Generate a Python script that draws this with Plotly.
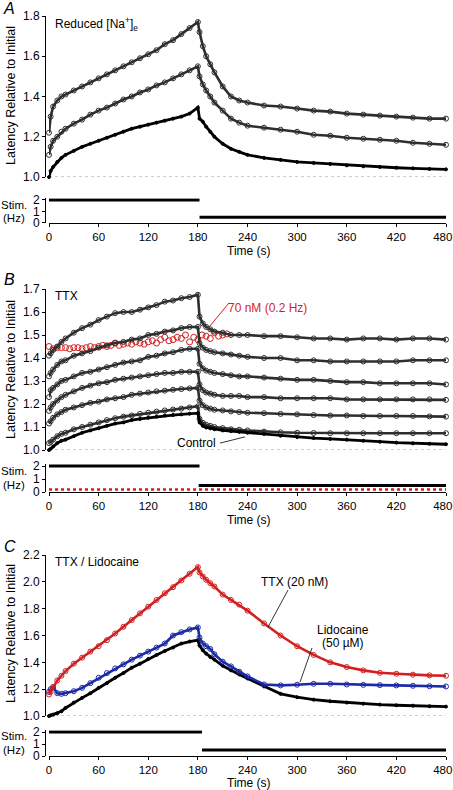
import plotly.graph_objects as go

# ---------------- data ----------------
T_PRE = [0, 2, 5, 10, 15, 20, 30, 40, 50, 60, 70, 80, 90, 100, 110, 120, 130, 140, 150, 160, 170, 180]
T_POST = [182, 186, 190, 195, 200, 210, 220, 230, 240, 260, 280, 300, 320, 340, 360, 380, 400, 420, 440, 460, 480]
TIME = T_PRE + T_POST

# Panel A: reduced [Na+]e
A_95 = [1.22, 1.30, 1.35, 1.38, 1.40, 1.41, 1.43, 1.45, 1.47, 1.49, 1.51, 1.53, 1.55, 1.57, 1.59, 1.61, 1.63, 1.66, 1.68, 1.71, 1.74, 1.77,
        1.72, 1.65, 1.60, 1.56, 1.52, 1.45, 1.40, 1.38, 1.37, 1.355, 1.35, 1.34, 1.33, 1.325, 1.315, 1.31, 1.305, 1.30, 1.295, 1.29, 1.29]
A_125 = [1.11, 1.15, 1.18, 1.20, 1.225, 1.24, 1.265, 1.285, 1.31, 1.33, 1.345, 1.365, 1.385, 1.40, 1.42, 1.435, 1.455, 1.47, 1.49, 1.51, 1.53, 1.55,
         1.50, 1.46, 1.43, 1.40, 1.37, 1.33, 1.29, 1.27, 1.255, 1.245, 1.235, 1.225, 1.21, 1.205, 1.195, 1.19, 1.185, 1.18, 1.17, 1.165, 1.16]
A_145 = [1.00, 1.03, 1.05, 1.075, 1.095, 1.11, 1.13, 1.15, 1.165, 1.18, 1.195, 1.21, 1.225, 1.24, 1.25, 1.26, 1.27, 1.28, 1.29, 1.30, 1.315, 1.345,
         1.29, 1.275, 1.25, 1.225, 1.20, 1.165, 1.14, 1.125, 1.11, 1.095, 1.085, 1.075, 1.07, 1.065, 1.058, 1.053, 1.05, 1.046, 1.043, 1.04, 1.038]
A_LABELS = ["95 mM", "125 mM", "145 mM"]
A_LABEL_Y = [1.338, 1.199, 1.075]

# Panel B: TTX
B_60 = [1.41, 1.42, 1.435, 1.45, 1.47, 1.485, 1.51, 1.53, 1.545, 1.565, 1.58, 1.595, 1.60, 1.60, 1.61, 1.62, 1.63, 1.645, 1.65, 1.66, 1.665, 1.675,
        1.58, 1.55, 1.535, 1.525, 1.515, 1.51, 1.50, 1.50, 1.50, 1.495, 1.495, 1.49, 1.485, 1.485, 1.48, 1.485, 1.485, 1.48, 1.485, 1.485, 1.48]
B_50 = [1.32, 1.335, 1.35, 1.37, 1.385, 1.39, 1.41, 1.42, 1.43, 1.445, 1.455, 1.465, 1.47, 1.48, 1.485, 1.50, 1.505, 1.515, 1.52, 1.53, 1.535, 1.535,
        1.465, 1.445, 1.435, 1.43, 1.425, 1.42, 1.415, 1.41, 1.405, 1.40, 1.40, 1.39, 1.39, 1.385, 1.385, 1.385, 1.385, 1.385, 1.39, 1.39, 1.39]
B_40 = [1.23, 1.26, 1.27, 1.285, 1.30, 1.305, 1.32, 1.335, 1.34, 1.35, 1.36, 1.37, 1.38, 1.385, 1.39, 1.405, 1.41, 1.42, 1.425, 1.435, 1.44, 1.44,
        1.375, 1.355, 1.345, 1.34, 1.335, 1.33, 1.325, 1.32, 1.32, 1.315, 1.31, 1.305, 1.305, 1.30, 1.295, 1.295, 1.29, 1.29, 1.29, 1.29, 1.285]
B_30 = [1.17, 1.185, 1.20, 1.215, 1.23, 1.24, 1.255, 1.27, 1.28, 1.29, 1.295, 1.305, 1.31, 1.315, 1.32, 1.325, 1.33, 1.335, 1.335, 1.34, 1.34, 1.34,
        1.285, 1.26, 1.25, 1.245, 1.24, 1.235, 1.235, 1.235, 1.23, 1.23, 1.225, 1.225, 1.225, 1.225, 1.22, 1.22, 1.22, 1.22, 1.22, 1.22, 1.218]
B_20 = [1.115, 1.125, 1.14, 1.155, 1.165, 1.175, 1.185, 1.195, 1.205, 1.21, 1.22, 1.225, 1.23, 1.24, 1.245, 1.25, 1.255, 1.258, 1.262, 1.265, 1.268, 1.27,
        1.215, 1.195, 1.185, 1.18, 1.175, 1.172, 1.168, 1.165, 1.162, 1.16, 1.157, 1.155, 1.152, 1.15, 1.15, 1.148, 1.148, 1.148, 1.148, 1.146, 1.145]
B_10 = [1.03, 1.035, 1.045, 1.06, 1.07, 1.075, 1.09, 1.10, 1.11, 1.12, 1.13, 1.138, 1.145, 1.15, 1.157, 1.162, 1.167, 1.172, 1.176, 1.18, 1.185, 1.19,
        1.135, 1.118, 1.11, 1.105, 1.10, 1.095, 1.09, 1.088, 1.085, 1.08, 1.077, 1.075, 1.074, 1.073, 1.073, 1.073, 1.073, 1.073, 1.073, 1.073, 1.073]
B_CTRL = [1.00, 1.005, 1.015, 1.03, 1.04, 1.045, 1.06, 1.075, 1.085, 1.095, 1.105, 1.115, 1.12, 1.13, 1.135, 1.14, 1.145, 1.15, 1.152, 1.155, 1.158, 1.16,
          1.12, 1.105, 1.098, 1.094, 1.09, 1.085, 1.082, 1.079, 1.075, 1.07, 1.062, 1.056, 1.052, 1.048, 1.045, 1.04, 1.036, 1.032, 1.029, 1.027, 1.025]
B_LABELS = ["60 nM", "50 nM", "40 nM", "30 nM", "20 nM", "10 nM"]
B_LABEL_Y = [1.513, 1.422, 1.357, 1.243, 1.183, 1.10]
T_RED = [0, 5, 10, 15, 20, 25, 30, 35, 40, 45, 50, 55, 60, 65, 70, 75, 80, 85, 90, 95, 100, 105,
         110, 115, 120, 125, 130, 135, 140, 145, 150, 155, 160, 165, 170, 175, 180, 185, 190, 195, 200, 205, 210, 215]
B_70 = [1.45, 1.44, 1.445, 1.445, 1.445, 1.44, 1.445, 1.445, 1.44, 1.445, 1.45, 1.445, 1.45, 1.455, 1.45, 1.455, 1.465, 1.455, 1.46, 1.465, 1.46, 1.47,
        1.465, 1.46, 1.47, 1.475, 1.465, 1.48, 1.49, 1.475, 1.48, 1.49, 1.485, 1.50, 1.47, 1.49, 1.48, 1.50, 1.495, 1.485, 1.51, 1.495, 1.50, 1.505]

# Panel C: TTX / Lidocaine
C_TTX = [1.16, 1.18, 1.215, 1.265, 1.30, 1.335, 1.39, 1.435, 1.48, 1.52, 1.565, 1.615, 1.665, 1.715, 1.765, 1.815, 1.865, 1.915, 1.96, 2.01, 2.06, 2.11,
         2.07, 2.04, 2.015, 1.99, 1.965, 1.905, 1.865, 1.83, 1.785, 1.69, 1.60, 1.52, 1.455, 1.40, 1.365, 1.34, 1.322, 1.315, 1.308, 1.303, 1.30]
C_LIDO = [1.18, 1.20, 1.215, 1.17, 1.165, 1.17, 1.185, 1.21, 1.245, 1.285, 1.32, 1.355, 1.385, 1.42, 1.45, 1.48, 1.51, 1.54, 1.60, 1.625, 1.645, 1.66,
          1.585, 1.54, 1.52, 1.50, 1.46, 1.405, 1.37, 1.33, 1.295, 1.235, 1.228, 1.233, 1.24, 1.24, 1.235, 1.232, 1.23, 1.228, 1.225, 1.222, 1.22]
C_CTRL = [1.00, 1.005, 1.01, 1.02, 1.035, 1.06, 1.10, 1.135, 1.17, 1.21, 1.245, 1.285, 1.32, 1.36, 1.39, 1.425, 1.455, 1.485, 1.51, 1.54, 1.555, 1.565,
          1.525, 1.49, 1.465, 1.44, 1.42, 1.375, 1.34, 1.31, 1.28, 1.22, 1.165, 1.14, 1.122, 1.11, 1.10, 1.092, 1.085, 1.08, 1.077, 1.073, 1.07]

# Stimulation protocols (Hz)
STIM_A_T = [[0, 182], [182, 480]]
STIM_B_T = [[0, 182], [181, 480]]
STIM_C_T = [[0, 185], [185, 480]]
STIM_HZ = [2, 0.5]
STIM_RED_T = [0, 480]
STIM_RED_HZ = 0.2

X_TICKS = [0, 60, 120, 180, 240, 300, 360, 420, 480]
X_TICKTEXT = ["0", "60", "120", "180", "240", "300", "360", "420", "480\u00a0\u00a0"]

# ---------------- layout helpers ----------------
W, H = 453, 790
L, R = 45, 7
PLOT_W = W - L - R
X0_PX = 49  # pixel position of t = 0 (y axes are offset to the left)
FONT = "Liberation Sans, Arial, sans-serif"
GRAY = "#2e2e2e"
RED = "#d21f1f"
BLUE = "#1c2aa8"


def yd(top_px, bottom_px):
    return [1 - bottom_px / H, 1 - top_px / H]


def px_x(p):
    return (p - L) / PLOT_W


def px_y(p):
    return 1 - p / H


fig = go.Figure()


def add_series(x, y, xa, ya, color, open_marker, lw=2.6, msize=5):
    fig.add_trace(go.Scatter(
        x=x, y=y, xaxis=xa, yaxis=ya, mode="lines+markers",
        line=dict(color=color, width=lw),
        marker=dict(symbol="circle-open" if open_marker else "circle",
                    size=msize, color=color, line=dict(width=1, color=color)),
        cliponaxis=False, showlegend=False, hoverinfo="skip"))


# Panel A
add_series(TIME, A_95, "x", "y", GRAY, True)
add_series(TIME, A_125, "x", "y", GRAY, True)
add_series(TIME, A_145, "x", "y", "black", False, lw=2.8, msize=3)

# Panel B
fig.add_trace(go.Scatter(x=T_RED, y=B_70, xaxis="x3", yaxis="y3", mode="markers",
                         marker=dict(symbol="circle-open", size=6, color=RED, line=dict(width=1, color=RED)),
                         cliponaxis=False, showlegend=False, hoverinfo="skip"))
for s in [B_60, B_50, B_40, B_30, B_20, B_10]:
    add_series(TIME, s, "x3", "y3", GRAY, True)
add_series(TIME, B_CTRL, "x3", "y3", "black", False, lw=2.8, msize=3)

# Panel C
add_series(TIME, C_CTRL, "x5", "y5", "black", False, lw=2.8, msize=3)
add_series(TIME, C_LIDO, "x5", "y5", BLUE, True)
add_series(TIME, C_TTX, "x5", "y5", RED, True)

# Stimulation panels
for ts, xa, ya in [(STIM_A_T, "x2", "y2"), (STIM_B_T, "x4", "y4"), (STIM_C_T, "x6", "y6")]:
    for seg, hz in zip(ts, STIM_HZ):
        fig.add_trace(go.Scatter(x=seg, y=[hz, hz], xaxis=xa, yaxis=ya, mode="lines",
                                 line=dict(color="black", width=3), showlegend=False,
                                 hoverinfo="skip"))
fig.add_trace(go.Scatter(x=STIM_RED_T, y=[STIM_RED_HZ, STIM_RED_HZ], xaxis="x4", yaxis="y4", mode="lines",
                         line=dict(color=RED, width=2.5, dash="dot"), showlegend=False, hoverinfo="skip"))

# Axes
XDOM = [px_x(X0_PX), 1]
main_y = dict(showline=True, linecolor="black", linewidth=1, ticks="outside", ticklen=3,
              tickwidth=1, tickcolor="black", showgrid=False, zeroline=False,
              tickfont=dict(size=12, color="black", family=FONT), automargin=False, tickformat=".1f",
              anchor="free", position=0)
stim_y = dict(showline=True, linecolor="black", linewidth=1, ticks="outside", ticklen=3,
              tickwidth=1, tickcolor="black", showgrid=False, zeroline=False,
              tickvals=[0, 1, 2], ticktext=["0", "1", "2"],
              tickfont=dict(size=12, color="black", family=FONT), automargin=False,
              anchor="free", position=0)
hidden_x = dict(range=[0, 480], visible=False, domain=XDOM)
stim_x = dict(range=[0, 480], domain=XDOM, showline=True, linecolor="black", linewidth=1,
              ticks="outside", ticklen=3, tickwidth=1, tickcolor="black",
              tickvals=X_TICKS, ticktext=X_TICKTEXT,
              showgrid=False, zeroline=False, tickfont=dict(size=11.5, color="black", family=FONT),
              automargin=False, ticklabeloverflow="allow")

fig.update_layout(
    width=W, height=H, margin=dict(l=L, r=R, t=0, b=0),
    paper_bgcolor="white", plot_bgcolor="white",
    font=dict(family=FONT, size=12, color="black"),
    xaxis=dict(hidden_x, anchor="y"),
    yaxis=dict(main_y, domain=yd(16, 177), range=[1.0, 1.8], dtick=0.2),
    xaxis2=dict(stim_x, anchor="y2"),
    yaxis2=dict(stim_y, domain=yd(223 - 2.15 * 11.5, 223), range=[0, 2.15]),
    xaxis3=dict(hidden_x, anchor="y3"),
    yaxis3=dict(main_y, domain=yd(289, 450), range=[1.0, 1.7], dtick=0.1),
    xaxis4=dict(stim_x, anchor="y4"),
    yaxis4=dict(stim_y, domain=yd(492 - 2.15 * 13, 492), range=[0, 2.15]),
    xaxis5=dict(hidden_x, anchor="y5"),
    yaxis5=dict(main_y, domain=yd(555, 716), range=[1.0, 2.2], dtick=0.2),
    xaxis6=dict(stim_x, anchor="y6"),
    yaxis6=dict(stim_y, domain=yd(756 - 2.15 * 12, 756), range=[0, 2.15]),
)

# dotted baseline at 1.0
for xr, yr in [("x", "y"), ("x3", "y3"), ("x5", "y5")]:
    fig.add_shape(type="line", xref=xr, yref=yr, x0=0, x1=480, y0=1.0, y1=1.0,
                  line=dict(color="#9a9a9a", width=1, dash="dot"), layer="below")

ann = []


def text(x, y, s, xref="paper", yref="paper", xanchor="center", size=12, color="black", italic=False, angle=0):
    ann.append(dict(x=x, y=y, xref=xref, yref=yref, text=s, showarrow=False, xanchor=xanchor,
                    yanchor="middle", textangle=angle, borderpad=0,
                    font=dict(size=size, color=color, family=FONT, style="italic" if italic else "normal")))


# panel letters
text(px_x(9), px_y(9), "A", size=16, italic=True)
text(px_x(9), px_y(279), "B", size=16, italic=True)
text(px_x(10), px_y(546), "C", size=16, italic=True)

# y titles
for cy in [96, 370, 634]:
    text(px_x(11), px_y(cy), "Latency Relative to Initial", size=12.5, angle=-90)

# stim labels and time titles
for sy, hy, ty in [(205, 218, 251), (471, 485, 520), (736, 750, 783)]:
    text(px_x(14), px_y(sy), "Stim.", size=11.5)
    text(px_x(14), px_y(hy), "(Hz)", size=11.5)
    text(px_x(249), px_y(ty), "Time (s)")

# Panel titles
text(px_x(54), px_y(24), "Reduced [Na<sup>+</sup>]<sub>e</sub>", xanchor="left")
text(px_x(54), px_y(296), "TTX", xanchor="left")
text(px_x(54), px_y(562), "TTX / Lidocaine", xanchor="left")

# Series labels
for lab, ly in zip(A_LABELS, A_LABEL_Y):
    text(485, ly, lab, xref="x", yref="y", xanchor="right")
for lab, ly in zip(B_LABELS, B_LABEL_Y):
    text(485, ly, lab, xref="x3", yref="y3", xanchor="right")
text(203, 1.03, "Control", xref="x3", yref="y3", xanchor="right")
text(215, 1.617, "70 nM (0.2 Hz)", xref="x3", yref="y3", xanchor="left", color=RED)
text(297, 1.998, "TTX (20 nM)", xref="x5", yref="y5")
text(355, 1.641, "Lidocaine", xref="x5", yref="y5")
text(355, 1.544, "(50 µM)", xref="x5", yref="y5")
text(481, 1.127, "Control", xref="x5", yref="y5", xanchor="right")

fig.update_layout(annotations=ann)

# leader lines
fig.add_shape(type="line", xref="x3", yref="y3", x0=217.6, y0=1.639, x1=190.6, y1=1.522,
              line=dict(color=RED, width=1))
fig.add_shape(type="line", xref="x3", yref="y3", x0=206.7, y0=1.030, x1=237, y1=1.057,
              line=dict(color="black", width=0.8))
fig.add_shape(type="line", xref="x5", yref="y5", x0=289, y0=1.939, x1=264.8, y1=1.663,
              line=dict(color="black", width=0.8))
fig.add_shape(type="line", xref="x5", yref="y5", x0=318, y0=1.507, x1=303.5, y1=1.253,
              line=dict(color="black", width=0.8))

fig.write_html("out.html", config={"displayModeBar": False},
               post_script="document.body.style.margin='0';document.body.style.overflow='hidden';")
